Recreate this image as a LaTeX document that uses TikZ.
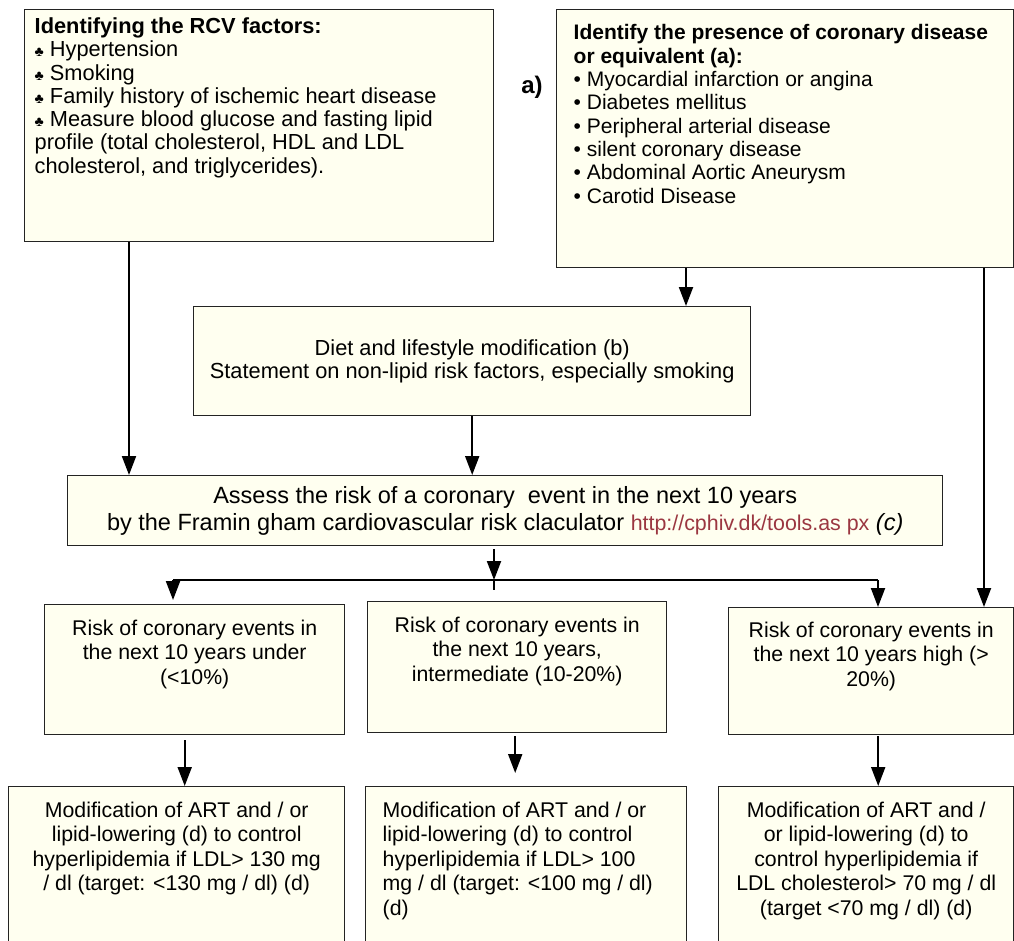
\documentclass[tikz,border=0pt]{standalone}
\usepackage{fontspec}
\setmainfont{Liberation Sans}
\usetikzlibrary{arrows.meta,calc}
\definecolor{cFill}{RGB}{255,255,240}
\definecolor{cEdge}{RGB}{35,35,35}
\definecolor{cLink}{RGB}{155,55,65}
\newcommand{\topbox}[3]{\parbox[t][#2][t]{#1}{#3}}
\newcommand{\clubmark}{{\fontsize{14}{14}\selectfont ♣}}

\begin{document}
\begin{tikzpicture}[x=1pt,y=-1pt,
  box/.style={draw=cEdge,fill=cFill,line width=1.4pt,anchor=north west,inner sep=0pt},
  txt/.style={font=\fontsize{21}{23.3}\selectfont},
  wide/.style={font=\fontsize{21.8}{23.3}\selectfont},
  small/.style={font=\fontsize{21.3}{24.5}\selectfont},
  arr/.style={-{Triangle[length=19pt,width=14pt]},line width=2pt},
  link/.style={line width=2pt}]
  \useasboundingbox (0,0) rectangle (1014,941);
  \clip (0,0) rectangle (1014,941);

  % top row
  \node[box,wide,inner xsep=10pt,inner ysep=8pt] (rcv) at (24,9)
    {\topbox{449pt}{216pt}{\raggedright
      \textbf{Identifying the RCV factors:}\\
      \clubmark\ Hypertension\\
      \clubmark\ Smoking\\
      \clubmark\ Family history of ischemic heart disease\\
      \clubmark\ Measure blood glucose and fasting lipid\\
      profile (total cholesterol, HDL and LDL\\
      cholesterol, and triglycerides).}};
  \node[font=\bfseries\fontsize{24}{24}\selectfont] (lbl) at (532,87) {a)};
  \node[box,txt,inner xsep=17pt,inner ysep=15pt] (cor) at (556,9)
    {\topbox{423pt}{228pt}{\raggedright
      \textbf{Identify the presence of coronary disease}\\
      \textbf{or equivalent (a):}\\
      • Myocardial infarction or angina\\
      • Diabetes mellitus\\
      • Peripheral arterial disease\\
      • silent coronary disease\\
      • Abdominal Aortic Aneurysm\\
      • Carotid Disease}};

  % middle
  \node[box,wide,minimum width=557pt,minimum height=109pt,align=center] (diet) at (193,306)
    {Diet and lifestyle modification (b)\\
     Statement on non-lipid risk factors, especially smoking};
  \node[box,font=\fontsize{23.5}{27}\selectfont,minimum width=875pt,minimum height=70pt,align=center] (assess) at (67,475)
    {Assess the risk of a coronary\ \ event in the next 10 years\\
     by the Framin gham cardiovascular risk claculator
     {\color{cLink}\fontsize{21.4}{27}\selectfont http://cphiv.dk/tools.as px} \textit{(c)}};

  % risk classes
  \node[box,small,inner ysep=15pt] (under) at (44,604)
    {\topbox{300pt}{100pt}{\centering
      Risk of coronary events in\\the next 10 years under\\(<10\%)}};
  \node[box,small,inner ysep=15pt] (inter) at (367,601)
    {\topbox{299pt}{101pt}{\centering
      Risk of coronary events in\\the next 10 years,\\intermediate (10-20\%)}};
  \node[box,small,inner ysep=14pt] (high) at (728,607)
    {\topbox{285pt}{99pt}{\centering
      Risk of coronary events in\\the next 10 years high (>\\20\%)}};

  % treatment targets
  \node[box,small,inner ysep=15pt] (low1) at (8,786)
    {\topbox{336pt}{144pt}{\centering
      Modification of ART and / or\\lipid-lowering (d) to control\\
      hyperlipidemia if LDL> 130 mg\\/ dl (target: <130 mg / dl) (d)}};
  \node[box,small,inner xsep=17pt,inner ysep=15pt] (low2) at (365,786)
    {\topbox{287pt}{144pt}{\raggedright
      Modification of ART and / or\\lipid-lowering (d) to control\\
      hyperlipidemia if LDL> 100\\mg / dl (target: <100 mg / dl)\\(d)}};
  \node[box,small,inner ysep=15pt] (low3) at (718,786)
    {\topbox{295pt}{144pt}{\centering
      Modification of ART and /\\or lipid-lowering (d) to\\control hyperlipidemia if\\
      LDL cholesterol> 70 mg / dl\\(target <70 mg / dl) (d)}};

  % connectors
  \draw[arr] ([xshift=105pt]rcv.south west) -- ([xshift=105pt]rcv.south west |- assess.north);
  \draw[arr] ([xshift=130pt]cor.south west) -- ([xshift=130pt]cor.south west |- diet.north);
  \draw[arr] ([xshift=428pt]cor.south west) -- ([xshift=428pt]cor.south west |- high.north);
  \draw[arr] (diet.south) -- (diet.south |- assess.north);
  \coordinate (split) at (494,580);
  \coordinate (brL) at (173,580);
  \coordinate (brR) at (878,580);
  \draw[arr,shorten <=3pt] (split |- assess.south) -- (split);
  \draw[link] (split) -- ++(0,10);
  \draw[link] (brL) -- (brR);
  \draw[arr,shorten >=4pt] (brL) -- (brL |- under.north);
  \draw[arr] (brR) -- (brR |- high.north);
  \draw[arr,shorten <=5pt] ([xshift=-10pt]under.south) -- ([xshift=-10pt]under.south |- low1.north);
  \draw[arr,shorten <=3pt,shorten >=13pt] ([xshift=-2pt]inter.south) -- ([xshift=-2pt]inter.south |- low2.north);
  \draw[arr,shorten <=1pt] ([xshift=7pt]high.south) -- ([xshift=7pt]high.south |- low3.north);
\end{tikzpicture}
\end{document}
